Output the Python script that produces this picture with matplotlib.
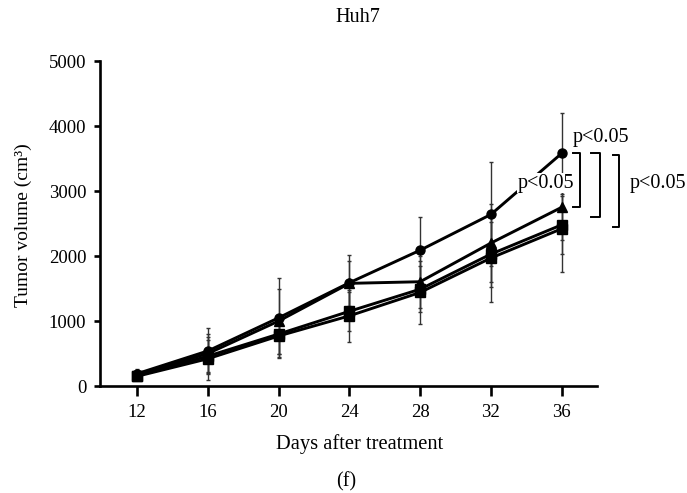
import numpy as np
import matplotlib.pyplot as plt

plt.rcParams['font.family'] = ['Liberation Serif', 'DejaVu Serif']

# data
days = [12, 16, 20, 24, 28, 32, 36]
vol_a = [190, 540, 1050, 1590, 2090, 2640, 3580]
vol_b = [180, 500, 1000, 1580, 1605, 2200, 2750]
vol_c = [160, 460, 800, 1150, 1490, 2030, 2480]
vol_d = [150, 420, 770, 1080, 1440, 1970, 2420]
err_a = [70, 360, 620, 420, 510, 800, 620]
err_b = [60, 300, 500, 350, 400, 600, 500]
err_c = [50, 250, 300, 300, 350, 500, 450]
err_d = [60, 330, 320, 400, 490, 670, 660]
yticks = [0, 1000, 2000, 3000, 4000, 5000]

fig = plt.figure(figsize=(6.87, 4.93), dpi=100)
ax = fig.add_axes([0.1456, 0.217, 0.7234, 0.659])

series = [(vol_d, err_d, 's'), (vol_c, err_c, 's'), (vol_b, err_b, '^'), (vol_a, err_a, 'o')]
for vals, errs, mk in series:
    ax.errorbar(days, vals, yerr=errs, color='black', lw=2.1, marker=mk, ms=6.5,
                elinewidth=1.0, capsize=1.5, capthick=1.0, ecolor='#333333')

ax.set_xlim(9.9, 38)
ax.set_ylim(0, 5000)
ax.set_xticks(days)
ax.set_yticks(yticks)
for s in ['top', 'right']:
    ax.spines[s].set_visible(False)
for s in ['left', 'bottom']:
    ax.spines[s].set_linewidth(1.9)
ax.tick_params(axis='x', direction='out', length=7, width=1.9, labelsize=13.5, pad=6)
ax.tick_params(axis='y', direction='out', length=4, width=1.9, labelsize=13.5, pad=6)

# significance brackets
brackets = [(37.03, 36.64, vol_a[-1], vol_b[-1]),
            (38.17, 37.66, vol_a[-1], 2600),
            (39.24, 38.90, vol_a[-1] - 20, 2450)]
for xv, xt, y1, y2 in brackets:
    ax.plot([xt, xv, xv, xt], [y1, y1, y2, y2], color='black', lw=1.4, clip_on=False)

bb = dict(facecolor='white', edgecolor='none', pad=0.3)
ax.text(36.6, 3830, 'p<0.05', fontsize=14.5, ha='left', va='center', bbox=bb, zorder=5)
ax.text(35.1, 3120, 'p<0.05', fontsize=14.5, ha='center', va='center', bbox=bb, zorder=5)
ax.text(39.86, 3120, 'p<0.05', fontsize=14.5, ha='left', va='center', clip_on=False)

fig.text(358 / 687, 1 - 18 / 493, 'Huh7', fontsize=14.5, ha='center', va='center')
fig.text(360 / 687, 1 - 444 / 493, 'Days after treatment', fontsize=14.8, ha='center', va='center')
fig.text(346 / 687, 1 - 482 / 493, '(f)', fontsize=14.5, ha='center', va='center')
fig.text(0.034, 0.544, 'Tumor volume (cm³)', fontsize=14, ha='center', va='center', rotation=90)

fig.savefig('out.png', dpi=100)
